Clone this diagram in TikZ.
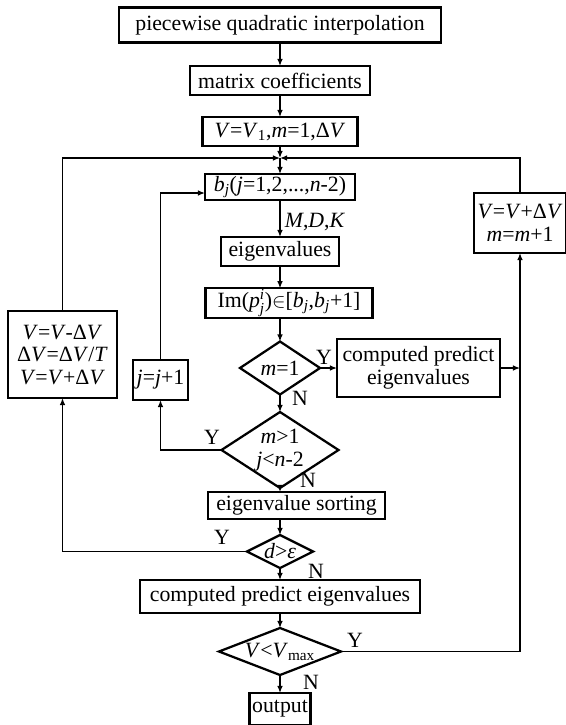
\documentclass[tikz,border=0pt]{standalone}
\usepackage{amsmath}
\usepackage{fontspec}
\setmainfont{Liberation Serif}
\usetikzlibrary{arrows.meta,shapes.geometric}
\newcommand{\itx}[1]{\textit{#1}}

\begin{document}
\begin{tikzpicture}[
		x=0.025cm, y=-0.025cm,
		font=\fontsize{15.5}{16}\selectfont,
		box/.style={draw, line width=1.6pt, inner sep=1pt, outer sep=0pt, align=center},
		dec/.style={diamond, draw, line width=1.6pt, inner sep=0pt, outer sep=0pt, aspect=1.6, align=center},
		link/.style={line width=0.9pt},
		arr/.style={link, -{Latex[length=5pt,width=4pt]}},
		yn/.style={inner sep=0pt}
	]
	\useasboundingbox (0,0) rectangle (566,725);

	\node[box, minimum width=8.05cm, minimum height=0.875cm] (interp) at (280,25) {piecewise quadratic interpolation};
	\node[box, minimum width=4.5cm, minimum height=0.725cm] (coef) at (280,80.5) {matrix coefficients};
	\node[box, minimum width=3.875cm, minimum height=0.725cm] (init) at (280,131.5) {\itx{V}=\itx{V}\textsubscript{1},\itx{m}=1,Δ\itx{V}};
	\coordinate (jn) at (280,158);
	\node[box, minimum width=3.75cm, minimum height=0.65cm] (bj) at (280,187) {\itx{b}\textsubscript{\itx{j}}(\itx{j}=1,2,...,\itx{n}-2)};
	\node[box, minimum width=2.95cm, minimum height=0.725cm] (eig) at (280,251.5) {eigenvalues};
	\node[box, minimum width=4.175cm, minimum height=0.65cm] (im) at (289,303) {Im($\itx{p}^{\itx{i}}_{\itx{j}}$)$\in$[\itx{b}\textsubscript{\itx{j}},\itx{b}\textsubscript{\itx{j}}+1]};
	\node[dec, minimum width=2cm, minimum height=1.325cm] (mone) at (280,368) {\itx{m}=1};
	\node[box, minimum width=4.075cm, minimum height=1.45cm] (pred) at (418.5,368) {computed predict\\eigenvalues};
	\node[dec, minimum width=2.925cm, minimum height=1.9cm, aspect=1.5] (mj) at (280,450) {\itx{m}>1\\\itx{j}<\itx{n}-2};
	\node[box, minimum width=1.375cm, minimum height=1cm] (jinc) at (160.5,380) {\itx{j}=\itx{j}+1};
	\node[box, minimum width=2.725cm, minimum height=2.175cm] (vback) at (62.5,354.5) {\itx{V}=\itx{V}-Δ\itx{V}\\Δ\itx{V}=Δ\itx{V}/\itx{T}\\\itx{V}=\itx{V}+Δ\itx{V}};
	\node[box, minimum width=2.3cm, minimum height=1.5cm] (vnext) at (520,223) {\itx{V}=\itx{V}+Δ\itx{V}\\\itx{m}=\itx{m}+1};
	\node[box, minimum width=4.425cm, minimum height=0.675cm] (sort) at (296.5,505.5) {eigenvalue sorting};
	\node[dec, minimum width=1.65cm, minimum height=0.825cm, aspect=2] (deps) at (280,551.5) {\itx{d}>\itx{ε}};
	\node[box, minimum width=7cm, minimum height=0.825cm] (predall) at (280,596.5) {computed predict eigenvalues};
	\node[dec, minimum width=3.05cm, minimum height=1.175cm, aspect=2.6] (vmax) at (280,651.5) {\itx{V}<\itx{V}\textsubscript{max}};
	\node[box, minimum width=1.525cm, minimum height=0.8cm] (out) at (280,709) {output};

	\draw[arr] (interp) -- (coef);
	\draw[arr] (coef) -- (init);
	\draw[arr] (init) -- (jn);
	\draw[arr] (jn) -- (bj);
	\draw[arr] (bj) -- node[yn, anchor=west, pos=0.6, xshift=3pt] (mdk) {\itx{M},\itx{D},\itx{K}} (eig);
	\draw[arr] (eig) -- (eig |- im.north);
	\draw[arr] (im.south -| mone) -- (mone.north);
	\draw[arr] (mone) -- (pred);
	\draw[arr] (mone) -- (mj);
	\draw[arr] (mj.south) -- (mj.south |- sort.north);
	\draw[arr] (sort.south -| deps) -- (deps.north);
	\draw[arr] (deps) -- (predall);
	\draw[arr] (predall) -- (vmax);
	\draw[arr] (vmax) -- (out);
	\draw[arr] (mj.west) -| (jinc.south);
	\draw[arr] (jinc.north) |- ([yshift=-0.15cm]bj.west);
	\draw[arr] (deps.west) -| (vback.south);
	\draw[arr] (vback.north) |- (jn);
	\draw[arr] (vmax.east) -| (vnext.south);
	\draw[arr] (pred.east) -- (pred.east -| vnext.south);
	\draw[arr] (vnext.north) |- (jn);

	\node[yn] (y1) at (324,357) {Y};
	\node[yn] (n1) at (300,398) {N};
	\node[yn] (y2) at (212,437) {Y};
	\node[yn] (n2) at (308,480) {N};
	\node[yn] (y3) at (222,537) {Y};
	\node[yn] (n3) at (316,571) {N};
	\node[yn] (y4) at (355,640) {Y};
	\node[yn] (n4) at (311,682) {N};
\end{tikzpicture}
\end{document}
